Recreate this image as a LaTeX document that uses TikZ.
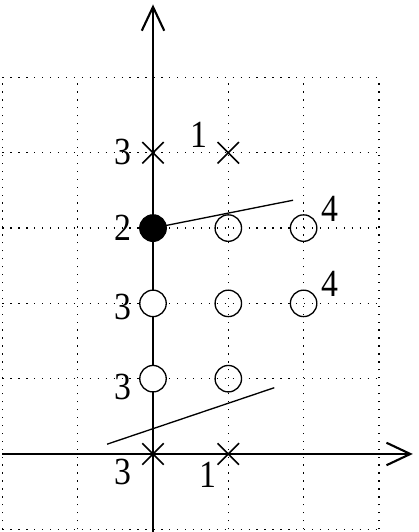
\documentclass[tikz,border=0pt]{standalone}
\usepackage{fontspec}
\setmainfont{Liberation Serif}[FakeStretch=0.88]
\usetikzlibrary{arrows.meta,shapes.misc}
\begin{document}
\begin{tikzpicture}[x=1cm,y=1cm,
  gridline/.style={line width=0.5pt,dash pattern=on 0.5pt off 2.5pt},
  axis/.style={line width=0.8pt,-{Straight Barb[length=9pt,width=8.5pt,line width=0.8pt]}},
  xmark/.style={cross out,draw,line width=0.6pt,minimum size=7.5pt,inner sep=0pt},
  opendot/.style={circle,draw,line width=0.5pt,minimum size=10pt,inner sep=0pt},
  whitedot/.style={opendot,fill=white},
  blackdot/.style={opendot,fill=black},
  lab/.style={font=\fontsize{14.5}{17}\selectfont,inner sep=0pt},
  thinline/.style={line width=0.5pt}]
\useasboundingbox (-2.032,-1.036) rectangle (3.532,6.029);
\draw[gridline] (-2,-1) grid (3,5);
\coordinate (yb) at (0,-1.036);
\coordinate (yt) at (0,5.97);
\coordinate (xl) at (-2,0);
\coordinate (xr) at (3.45,0);
\draw[axis] (xl) -- (xr);
\draw[axis] (yb) -- (yt);
% thin lines
\coordinate (l1e) at (1.86,3.37);
\coordinate (l2a) at (-0.61,0.13);
\coordinate (l2b) at (1.61,0.88);
\draw[thinline] (0,3) -- (l1e);
\draw[thinline] (l2a) -- (l2b);
% marks
\node[xmark] (c04) at (0,4) {};
\node[xmark] (c14) at (1,4) {};
\node[xmark] (c00) at (0,0) {};
\node[xmark] (c10) at (1,0) {};
\node[blackdot] (d03) at (0,3) {};
\node[opendot] (d13) at (1,3) {};
\node[opendot] (d23) at (2,3) {};
\node[whitedot] (d02) at (0,2) {};
\node[opendot] (d12) at (1,2) {};
\node[opendot] (d22) at (2,2) {};
\node[whitedot] (d01) at (0,1) {};
\node[opendot] (d11) at (1,1) {};
% labels
\node[lab] (t1) at (-0.40,4.01) {3};
\node[lab] (t2) at (0.61,4.24) {1};
\node[lab] (t3) at (-0.40,3.0) {2};
\node[lab] (t4) at (2.35,3.25) {4};
\node[lab] (t5) at (2.35,2.26) {4};
\node[lab] (t6) at (-0.40,1.95) {3};
\node[lab] (t7) at (-0.40,0.89) {3};
\node[lab] (t8) at (-0.40,-0.24) {3};
\node[lab] (t9) at (0.73,-0.28) {1};
\end{tikzpicture}
\end{document}
